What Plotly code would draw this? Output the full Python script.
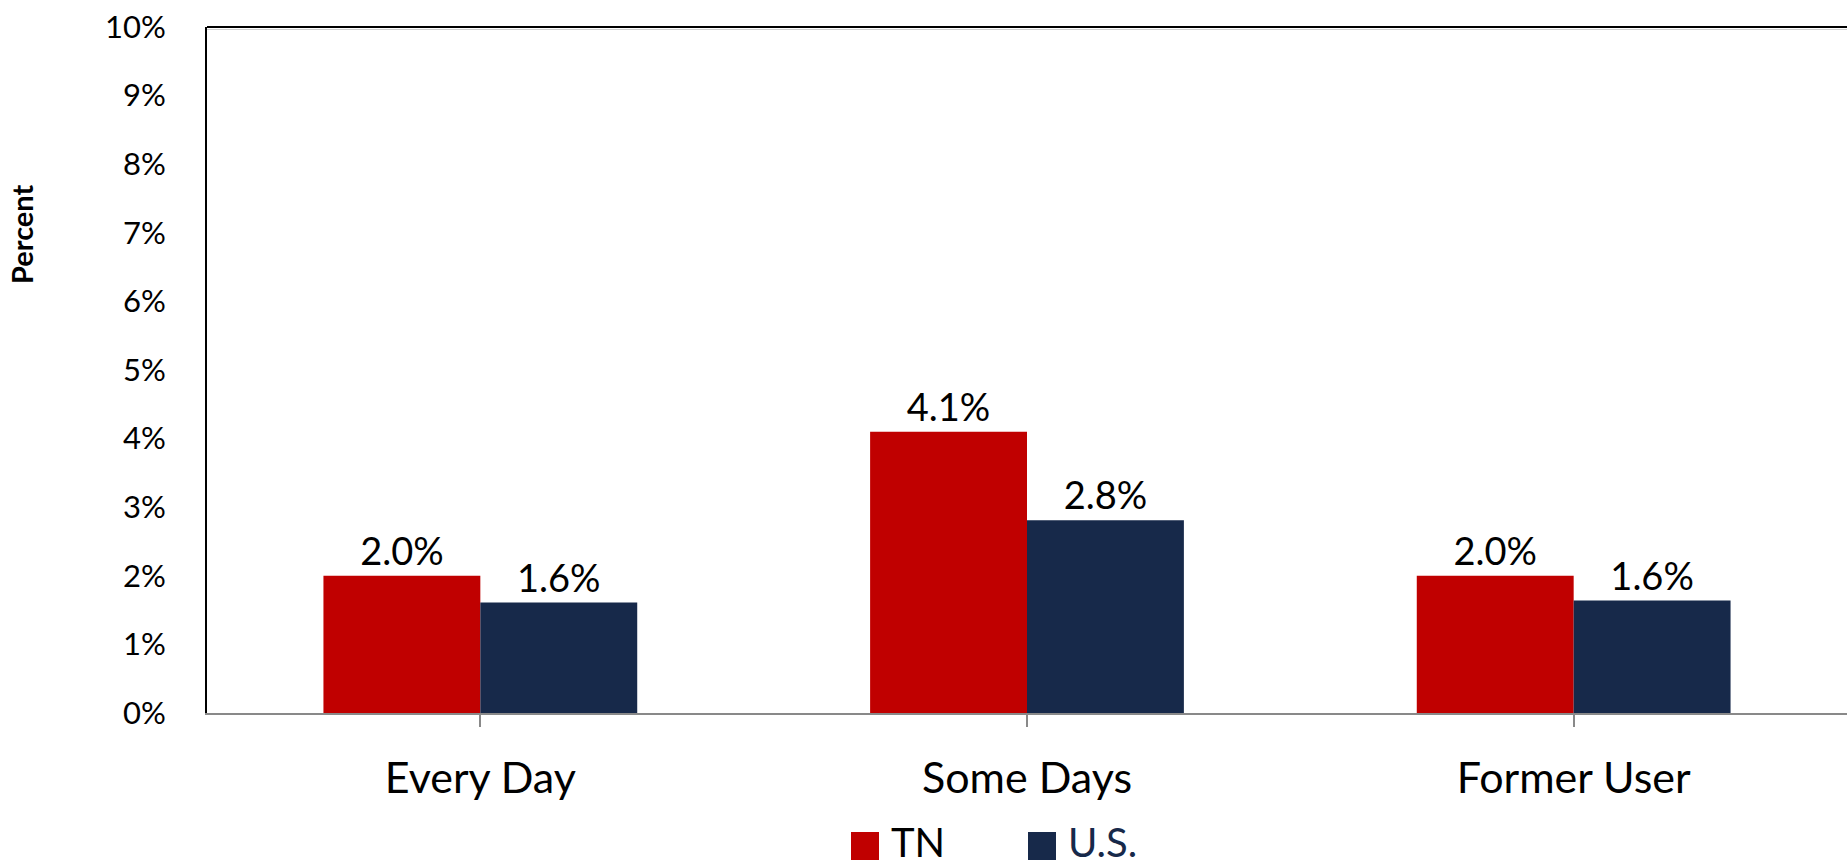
import plotly.graph_objects as go

# ---- data ----
categories = ["Every Day", "Some Days", "Former User"]
series_names = ["TN", "U.S."]
tn_values = [2.0, 4.1, 2.0]
us_values = [1.61, 2.81, 1.64]
y_tick_values = [0, 1, 2, 3, 4, 5, 6, 7, 8, 9, 10]
y_tick_labels = [f"{v}%" for v in y_tick_values]
y_axis_title = "Percent"

# ---- style ----
series_colors = ["#C00000", "#17294A"]
legend_text_colors = ["#000000", "#17294A"]
FONT = "Lato"

W, H = 1847, 868
ML, MR, MT, MB = 207, 0, 27, 155
PW, PH = W - ML - MR, H - MT - MB


def px_x(p):
    return (p - ML) / PW


def px_y(p):
    return (H - MB - p) / PH


fig = go.Figure()
for name, vals, col in zip(series_names, [tn_values, us_values], series_colors):
    fig.add_trace(go.Bar(
        x=categories, y=vals, name=name,
        marker=dict(color=col, line=dict(width=0)),
        texttemplate="%{y:.1f}%", textposition="outside",
        textfont=dict(family=FONT, size=38, color="#000000"),
        cliponaxis=False, showlegend=False,
    ))

fig.update_layout(
    width=W, height=H,
    margin=dict(l=ML, r=MR, t=MT, b=MB, pad=0),
    paper_bgcolor="white", plot_bgcolor="white",
    barmode="group", bargap=0.426, bargroupgap=0,
    font=dict(family=FONT, color="#000000"),
    showlegend=False,
)
fig.update_xaxes(
    range=[-0.5, 2.5], showgrid=False,
    showline=True, linecolor="#898989", linewidth=2,
    ticks="outside", ticklen=12, tickwidth=2, tickcolor="#898989",
    tickfont=dict(family=FONT, size=43, color="#000000"),
    ticklabelstandoff=14,
)
fig.update_yaxes(
    range=[0, 10], tickvals=y_tick_values, ticktext=y_tick_labels,
    showgrid=False, zeroline=False,
    showline=True, linecolor="#000000", linewidth=2,
    ticks="", tickfont=dict(family=FONT, size=31, color="#000000"),
    ticklabelstandoff=33,
)

# top border of plot area (with a faint shadow line like the original)
fig.add_shape(type="line", xref="paper", yref="paper", x0=0, x1=1,
              y0=px_y(MT + 2.5), y1=px_y(MT + 2.5),
              line=dict(color="#D0D0D0", width=1))
fig.add_shape(type="line", xref="paper", yref="paper", x0=0, x1=1, y0=1, y1=1,
              line=dict(color="#000000", width=2))

# y-axis title
fig.add_annotation(text=f"<b>{y_axis_title}</b>", xref="paper", yref="paper",
                   x=px_x(22), y=px_y(234), xanchor="center", yanchor="middle",
                   textangle=-90, showarrow=False,
                   font=dict(family=FONT, size=29, color="#000000"))

# legend (manual, to match large square keys)
legend_sq_left = [851, 1028]
for name, col, tcol, lx in zip(series_names, series_colors, legend_text_colors, legend_sq_left):
    fig.add_shape(type="rect", xref="paper", yref="paper",
                  x0=px_x(lx), x1=px_x(lx + 28), y0=px_y(860), y1=px_y(832),
                  fillcolor=col, line=dict(width=0))
    fig.add_annotation(text=name, xref="paper", yref="paper",
                       x=px_x(lx + 38), y=px_y(868), xanchor="left", yanchor="bottom",
                       showarrow=False, font=dict(family=FONT, size=40, color=tcol))

fig.write_html("out.html", config={"displayModeBar": False},
               post_script="document.body.style.margin='0';document.body.style.overflow='hidden';")
